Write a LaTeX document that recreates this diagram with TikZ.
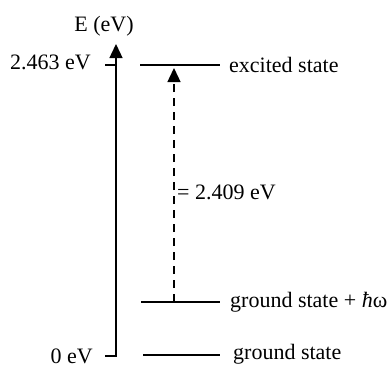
\documentclass[tikz,border=0pt]{standalone}
\usepackage{fontspec}
\setmainfont{Liberation Serif}
\usetikzlibrary{arrows.meta}
\begin{document}
\begin{tikzpicture}[x=1pt,y=-1pt,
  lbl/.style={inner sep=0pt,font=\fontsize{22}{26}\selectfont},
  level/.style={line width=1.4pt},
  axis/.style={line width=1.4pt},
  tip/.style={-{Triangle[width=13pt,length=14pt]}}]
\useasboundingbox (0,0) rectangle (391,368);
% axis
\coordinate (a0) at (116,356);
\coordinate (atop) at (116,44);
\coordinate (t0) at (105,356);
\coordinate (t1) at (105,65);
\coordinate (a1) at (116,65);
\draw[axis,tip] (t0) -- (a0) -- (atop);
\draw[axis] (t1) -- (a1);
\node[lbl] (ax) at (104,26) {E (eV)};
\node[lbl,anchor=east] (l1) at (91,62) {2.463 eV};
\node[lbl,anchor=east] (l0) at (93,356) {0 eV};
% levels
\coordinate (e1) at (140,65);
\coordinate (e2) at (220,65);
\coordinate (g1) at (141,302);
\coordinate (g2) at (220,302);
\coordinate (h1) at (143,355);
\coordinate (h2) at (220,355);
\draw[level] (e1) -- (e2);
\draw[level] (g1) -- (g2);
\draw[level] (h1) -- (h2);
\node[lbl,anchor=west] (ex) at (229,65) {excited state};
\node[lbl,anchor=west] (gw) at (230,302) {ground state + {\itshape ħ}ω};
\node[lbl,anchor=west] (gs) at (233,354) {ground state};
% transition
\coordinate (d0) at (174,302);
\coordinate (d1) at (174,68);
\draw[line width=1.4pt,dash pattern=on 8pt off 6pt,tip] (d0) -- (d1);
\node[lbl,anchor=west] (en) at (177,192) {= 2.409 eV};
\end{tikzpicture}
\end{document}
